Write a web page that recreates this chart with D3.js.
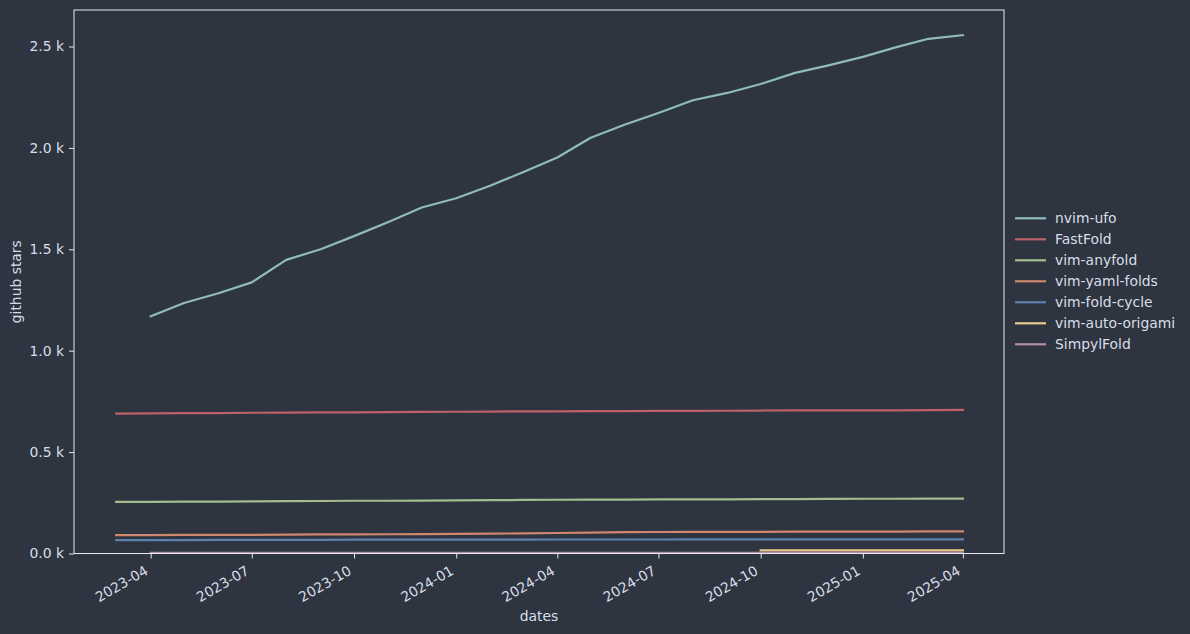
<!DOCTYPE html>
<html>
<head>
<meta charset="utf-8">
<script src="https://cdn.jsdelivr.net/npm/d3@7"></script>
<style>
  html, body { margin: 0; padding: 0; background: #2e3440; }
  svg { display: block; }
  text { font-family: "DejaVu Sans", sans-serif; fill: #d8dee9; }
</style>
</head>
<body>
<svg id="chart" width="1190" height="634"></svg>
<script>
// ---- data ----
const months = ["2023-03-01","2023-04-01","2023-05-01","2023-06-01","2023-07-01","2023-08-01","2023-09-01",
  "2023-10-01","2023-11-01","2023-12-01","2024-01-01","2024-02-01","2024-03-01","2024-04-01","2024-05-01",
  "2024-06-01","2024-07-01","2024-08-01","2024-09-01","2024-10-01","2024-11-01","2024-12-01","2025-01-01",
  "2025-02-01","2025-03-01","2025-04-01"];

const seriesNames = ["nvim-ufo","FastFold","vim-anyfold","vim-yaml-folds","vim-fold-cycle","vim-auto-origami","SimpylFold"];
const seriesColors = ["#8fbcbb","#bf616a","#a3be8c","#d08770","#5e81ac","#ebcb8b","#b48ead"];
// index into months where each series starts
const seriesStart = [1, 0, 0, 0, 0, 19, 1];

const nvimUfo = [1170,1235,1283,1337,1448,1500,1565,1635,1706,1752,1815,1880,1953,2050,2115,2172,2235,2271,2315,2370,2407,2449,2498,2538,2556];
const fastFold = [690,691,692,692,694,695,696,696,697,698,699,700,701,701,702,702,703,703,704,705,706,706,706,706,707,708];
const vimAnyfold = [255,255,256,256,257,258,259,260,260,261,262,263,264,265,266,266,267,267,267,268,268,269,270,270,271,271];
const vimYamlFolds = [91,91,92,92,92,93,94,94,95,96,97,98,99,101,103,105,106,107,107,107,108,108,108,108,109,109];
const vimFoldCycle = [66,66,66,67,67,67,67,68,68,68,68,68,68,69,69,69,69,70,70,70,70,70,70,70,70,70];
const vimAutoOrigami = [15,15,15,15,15,15,15];
const simpylFold = [3,3,3,3,3,3,3,3,3,3,3,3,3,3,3,3,3,3,3,3,3,3,3,3,3];
const seriesValues = [nvimUfo, fastFold, vimAnyfold, vimYamlFolds, vimFoldCycle, vimAutoOrigami, simpylFold];

const xTickDates = ["2023-04-01","2023-07-01","2023-10-01","2024-01-01","2024-04-01","2024-07-01","2024-10-01","2025-01-01","2025-04-01"];
const xTickLabels = ["2023-04","2023-07","2023-10","2024-01","2024-04","2024-07","2024-10","2025-01","2025-04"];
const yTickValues = [0,500,1000,1500,2000,2500];
const yTickLabels = ["0.0 k","0.5 k","1.0 k","1.5 k","2.0 k","2.5 k"];

// ---- layout ----
const parse = d3.utcParse("%Y-%m-%d");
const L = 74, R = 1004, T = 10, B = 553.5;
const FS = "13.9px";
const svg = d3.select("#chart");
svg.append("rect").attr("width",1190).attr("height",634).attr("fill","#2e3440");

const x = d3.scaleUtc()
  .domain([parse("2023-01-22"), parse("2025-05-08")])
  .range([L, R]);
const y = d3.scaleLinear().domain([0, 2680]).range([B, T]);

const fg = "#e5e9f0";

// clip
svg.append("clipPath").attr("id","plotclip").append("rect")
  .attr("x", L).attr("y", T).attr("width", R - L).attr("height", B - T);

const line = d3.line().x(d => x(d.date)).y(d => y(d.value));

const plot = svg.append("g").attr("clip-path","url(#plotclip)");
seriesNames.forEach((name, i) => {
  const pts = seriesValues[i].map((v, j) => ({ date: parse(months[seriesStart[i] + j]), value: v }));
  plot.append("path")
    .datum(pts)
    .attr("fill","none")
    .attr("stroke", seriesColors[i])
    .attr("stroke-width", 2.2)
    .attr("stroke-linejoin","round")
    .attr("stroke-linecap","square")
    .attr("d", line);
});

// frame
svg.append("rect").attr("x", L).attr("y", T).attr("width", R - L).attr("height", B - T)
  .attr("fill","none").attr("stroke", fg).attr("stroke-width", 1);

// x axis
const xAxis = d3.axisBottom(x)
  .tickValues(xTickDates.map(parse))
  .tickSize(5)
  .tickFormat((d, i) => xTickLabels[i]);
const gx = svg.append("g").attr("transform", `translate(0,${B})`).call(xAxis);
gx.select(".domain").remove();
gx.selectAll(".tick line").attr("stroke", fg);
gx.selectAll(".tick text")
  .attr("fill", "#d8dee9")
  .style("font-size", FS)
  .attr("text-anchor","end")
  .attr("dy", null)
  .attr("y", null)
  .attr("transform","translate(-2,20) rotate(-30)");

// y axis
const yAxis = d3.axisLeft(y)
  .tickValues(yTickValues)
  .tickSize(5)
  .tickPadding(5)
  .tickFormat((d, i) => yTickLabels[i]);
const gy = svg.append("g").attr("transform", `translate(${L},0)`).call(yAxis);
gy.select(".domain").remove();
gy.selectAll(".tick line").attr("stroke", fg);
gy.selectAll(".tick text").attr("fill", "#d8dee9").style("font-size", FS);

// axis labels
svg.append("text").attr("x", (L + R) / 2).attr("y", 621)
  .attr("text-anchor","middle").style("font-size", FS).text("dates");
svg.append("text").attr("transform", `translate(21,${(T + B) / 2}) rotate(-90)`)
  .attr("text-anchor","middle").style("font-size", FS).text("github stars");

// legend
const lg = svg.append("g");
seriesNames.forEach((name, i) => {
  const ly = 218.3 + i * 21;
  lg.append("line").attr("x1", 1015).attr("x2", 1046).attr("y1", ly).attr("y2", ly)
    .attr("stroke", seriesColors[i]).attr("stroke-width", 2.2);
  lg.append("text").attr("x", 1055).attr("y", ly).attr("dy","0.35em")
    .style("font-size", FS).text(name);
});
</script>
</body>
</html>
